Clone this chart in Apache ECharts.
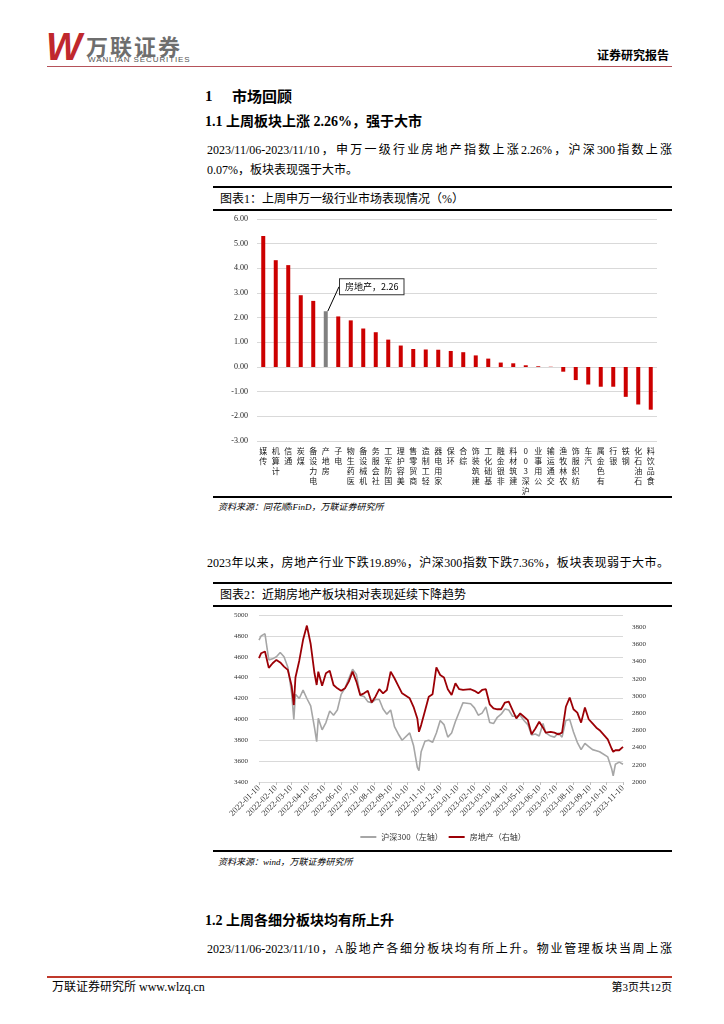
<!DOCTYPE html>
<html><head><meta charset="utf-8">
<script src="https://cdn.jsdelivr.net/npm/echarts@6/dist/echarts.min.js"></script>
<style>
html,body{margin:0;padding:0;background:#fff;}
body{width:724px;height:1024px;position:relative;overflow:hidden;font-family:"Liberation Serif","Noto Sans CJK SC",serif;color:#000;}
.t{position:absolute;white-space:nowrap;}
.rule{position:absolute;background:#000;}
.just{text-align:justify;text-align-last:justify;}
.h1{font-weight:bold;font-size:15px;line-height:16px;}
.h2{font-weight:bold;font-size:14px;line-height:16px;}
.p{font-size:12px;line-height:14px;font-family:"Liberation Serif","Noto Sans CJK SC",serif;}
.cap{font-size:12px;line-height:14px;}
.src{font-size:9px;line-height:10px;font-style:italic;}
</style></head><body>

<!-- header -->
<div class="t" style="left:46px;top:27px;font:italic bold 38px/40px 'Liberation Sans',sans-serif;color:#c0282d;letter-spacing:-6px;">W</div>
<div class="t" style="left:86px;top:33px;font:bold 22px/24px 'Noto Sans CJK SC',sans-serif;color:#6e6e6e;letter-spacing:2px;">万联证券</div>
<div class="t" style="left:88px;top:56px;font:8px/8px 'Liberation Sans',sans-serif;color:#555;letter-spacing:0.9px;">WANLIAN SECURITIES</div>
<div class="t" style="left:597px;top:48px;font:bold 12px/14px 'Noto Sans CJK SC',sans-serif;">证券研究报告</div>
<div class="rule" style="left:47px;top:66px;width:625px;height:1px;background:#b5525a;"></div>

<div class="t h1" style="left:205px;top:88px;">1</div>
<div class="t h1" style="left:232px;top:88px;font-family:'Noto Sans CJK SC',sans-serif;">市场回顾</div>
<div class="t h2" style="left:205px;top:114px;">1.1&nbsp;上周板块上涨 2.26%，强于大市</div>
<div class="t p just" style="left:207px;top:143px;width:465px;">2023/11/06-2023/11/10，申万一级行业房地产指数上涨2.26%，沪深300指数上涨</div>
<div class="t p" style="left:207px;top:163px;">0.07%，板块表现强于大市。</div>

<div class="rule" style="left:213px;top:186px;width:459px;height:2px;"></div>
<div class="t cap" style="left:220px;top:192px;">图表1：上周申万一级行业市场表现情况（%）</div>
<div class="rule" style="left:213px;top:209px;width:459px;height:2px;"></div>
<div id="c1" style="position:absolute;left:213px;top:212px;width:460px;height:284px;"></div>
<div class="rule" style="left:213px;top:496px;width:459px;height:2px;"></div>
<div class="t src" style="left:218px;top:502px;">资料来源：同花顺iFinD，万联证券研究所</div>

<div class="t p just" style="left:207px;top:556px;width:462px;">2023年以来，房地产行业下跌19.89%，沪深300指数下跌7.36%，板块表现弱于大市。</div>

<div class="rule" style="left:213px;top:582px;width:459px;height:2px;"></div>
<div class="t cap" style="left:220px;top:588px;">图表2：近期房地产板块相对表现延续下降趋势</div>
<div class="rule" style="left:213px;top:605px;width:459px;height:2px;"></div>
<div id="c2" style="position:absolute;left:213px;top:607px;width:460px;height:243px;"></div>
<div class="rule" style="left:213px;top:850px;width:459px;height:2px;"></div>
<div class="t src" style="left:218px;top:857px;">资料来源：wind，万联证券研究所</div>

<div class="t h2" style="left:205px;top:913px;">1.2&nbsp;上周各细分板块均有所上升</div>
<div class="t p just" style="left:207px;top:942px;width:465px;">2023/11/06-2023/11/10，A股地产各细分板块均有所上升。物业管理板块当周上涨</div>

<div class="rule" style="left:47px;top:976px;width:625px;height:2px;background:#c0392b;"></div>
<div class="t" style="left:52px;top:980px;font-size:12px;line-height:14px;">万联证券研究所 www.wlzq.cn</div>
<div class="t" style="right:52px;top:981px;font-size:11px;line-height:13px;">第3页共12页</div>

<script>
// ---------- Chart 1 data ----------
const industries = ['传媒','计算机','通信','煤炭','电力设备','房地产','电子','医药生物','机械设备','社会服务','国防军工','美容护理','商贸零售','轻工制造','家用电器','环保','综合','建筑装饰','基础化工','非银金融','建筑材料','沪深300','公用事业','交通运输','农林牧渔','纺织服饰','汽车','有色金属','银行','钢铁','石油石化','食品饮料'];
const weeklyChange = [5.31,4.33,4.13,2.91,2.68,2.26,2.05,1.89,1.56,1.41,1.11,0.87,0.73,0.71,0.70,0.65,0.60,0.47,0.34,0.18,0.15,0.07,0.03,0.01,-0.19,-0.53,-0.71,-0.80,-0.80,-1.21,-1.52,-1.73];
const highlightName = '房地产';

// ---------- Chart 2 data ----------
const dates = ['2022-01-10','2022-01-14','2022-01-21','2022-01-28','2022-02-04','2022-02-11','2022-02-18','2022-02-25','2022-03-04','2022-03-11','2022-03-15','2022-03-18','2022-03-25','2022-04-01','2022-04-08','2022-04-15','2022-04-22','2022-04-26','2022-04-29','2022-05-06','2022-05-13','2022-05-20','2022-05-27','2022-06-03','2022-06-10','2022-06-17','2022-06-24','2022-07-01','2022-07-08','2022-07-15','2022-07-22','2022-07-29','2022-08-05','2022-08-12','2022-08-19','2022-08-26','2022-09-02','2022-09-09','2022-09-16','2022-09-23','2022-09-30','2022-10-14','2022-10-21','2022-10-28','2022-10-31','2022-11-04','2022-11-11','2022-11-18','2022-11-25','2022-12-02','2022-12-09','2022-12-16','2022-12-23','2022-12-30','2023-01-06','2023-01-13','2023-01-20','2023-02-03','2023-02-10','2023-02-17','2023-02-24','2023-03-03','2023-03-10','2023-03-17','2023-03-24','2023-03-31','2023-04-07','2023-04-14','2023-04-21','2023-04-28','2023-05-05','2023-05-12','2023-05-19','2023-05-26','2023-06-02','2023-06-09','2023-06-16','2023-06-21','2023-06-30','2023-07-07','2023-07-14','2023-07-21','2023-07-28','2023-08-04','2023-08-11','2023-08-18','2023-08-25','2023-09-01','2023-09-08','2023-09-15','2023-09-22','2023-09-28','2023-10-13','2023-10-20','2023-10-23','2023-10-27','2023-11-03','2023-11-10'];
const hs300 = [4760,4800,4820,4570,4580,4600,4640,4600,4500,4250,4000,4240,4200,4280,4200,4130,3920,3786,4010,3900,3970,4080,4040,4090,4240,4300,4390,4480,4430,4230,4220,4170,4160,4190,4190,4100,4050,4090,3930,3860,3800,3870,3750,3540,3508,3690,3790,3800,3780,3870,3990,3950,3830,3870,3980,4070,4160,4150,4110,4040,4060,4120,3970,3960,4020,4050,4100,4090,4030,4030,4040,3990,3950,3850,3860,3840,3960,3870,3840,3830,3870,3830,3990,4000,3880,3780,3710,3770,3740,3710,3700,3690,3640,3530,3460,3570,3590,3570];
const realEstate = [3438,3496,3516,3326,3380,3418,3389,3341,3302,3117,2894,3214,3409,3652,3817,3603,3263,3127,3282,3117,3263,3292,3127,3088,3059,3088,3166,3282,3166,3010,3030,3059,2923,2991,3078,3030,3069,3282,3205,3117,3030,2972,2874,2738,2583,2661,2826,2991,3020,3331,3243,3214,3078,3010,3146,3078,3069,3078,3059,3030,3069,3078,2903,2855,2845,2845,2923,2933,2836,2738,2797,2758,2719,2554,2622,2700,2631,2573,2583,2573,2554,2573,2874,2981,2845,2806,2690,2865,2729,2680,2631,2602,2495,2389,2350,2369,2369,2408];
const tickDates = ['2022-01-10','2022-02-10','2022-03-10','2022-04-10','2022-05-10','2022-06-10','2022-07-10','2022-08-10','2022-09-10','2022-10-10','2022-11-10','2022-12-10','2023-01-10','2023-02-10','2023-03-10','2023-04-10','2023-05-10','2023-06-10','2023-07-10','2023-08-10','2023-09-10','2023-10-10','2023-11-10'];
const seriesNames = ['沪深300（左轴）','房地产（右轴）'];

// ---------- helpers ----------
const toTs = s => { const [y,m,d] = s.split('-').map(Number); return new Date(y, m-1, d).getTime(); };
const pad = n => (n < 10 ? '0' : '') + n;
const fmtDate = v => { const d = new Date(v); return d.getFullYear() + '-' + pad(d.getMonth()+1) + '-' + pad(d.getDate()); };

// ---------- Chart 1 ----------
const c1 = echarts.init(document.getElementById('c1'));
c1.setOption({
  animation: false,
  grid: {left: 44, right: 16, top: 7, bottom: 55},
  xAxis: {
    type: 'category', data: industries,
    axisLine: {show: false, onZero: false}, axisTick: {show: false},
    axisLabel: {interval: 0, fontSize: 8, lineHeight: 10, color: '#222', margin: 5, verticalAlign: 'top',
      fontFamily: 'Noto Sans CJK SC',
      formatter: v => Array.from(v).reverse().join('\n')}
  },
  yAxis: {
    type: 'value', min: -3, max: 6, interval: 1,
    axisLine: {show: false}, axisTick: {show: false},
    axisLabel: {formatter: v => v.toFixed(2), fontSize: 8, color: '#222', margin: 9, fontFamily: 'Liberation Serif'},
    splitLine: {lineStyle: {color: '#d9d9d9', width: 1}}
  },
  series: [{
    type: 'bar', barWidth: 4,
    itemStyle: {color: '#cc0000'},
    labelLine: {show: true, lineStyle: {color: '#000', width: 1}},
    labelLayout: p => (industries[p.dataIndex] === highlightName ? {dx: 46, dy: -12} : {}),
    data: weeklyChange.map((v, i) => industries[i] === highlightName ? {
      value: v,
      itemStyle: {color: '#808080'},
      label: {show: true, position: 'top', formatter: industries[i] + '，' + v.toFixed(2),
        fontSize: 9, fontFamily: 'Noto Sans CJK SC', color: '#000', backgroundColor: '#fff',
        borderColor: '#333', borderWidth: 1, padding: [3, 5]}
    } : v)
  }]
});

// ---------- Chart 2 ----------
const c2 = echarts.init(document.getElementById('c2'));
const tickTs = tickDates.map(toTs);
c2.setOption({
  animation: false,
  grid: {left: 46, right: 50, top: 8, bottom: 68},
  legend: {
    bottom: 4, left: 'center', icon: 'rect', itemWidth: 16, itemHeight: 2, itemGap: 6,
    textStyle: {fontSize: 8, color: '#333', fontFamily: 'Noto Sans CJK SC'},
    data: seriesNames
  },
  xAxis: {
    type: 'value', min: toTs(tickDates[0]), max: toTs(tickDates[tickDates.length-1]),
    splitLine: {show: false},
    axisLine: {show: true, onZero: false, lineStyle: {color: '#d9d9d9'}},
    axisTick: {show: true, customValues: tickTs, length: 3, lineStyle: {color: '#bfbfbf'}},
    axisLabel: {customValues: tickTs, rotate: 45, fontSize: 8.5, color: '#333', margin: 5,
      fontFamily: 'Liberation Serif', formatter: fmtDate}
  },
  yAxis: [{
    type: 'value', min: 3400, max: 5000, interval: 200, position: 'left',
    axisLine: {show: false}, axisTick: {show: false},
    axisLabel: {fontSize: 7, color: '#333', margin: 11, fontFamily: 'Liberation Serif', formatter: v => String(v)},
    splitLine: {lineStyle: {color: '#d9d9d9'}}
  }, {
    type: 'value', min: 2000, max: 3940, interval: 200, position: 'right',
    axisLine: {show: false}, axisTick: {show: false}, splitLine: {show: false},
    axisLabel: {fontSize: 7, color: '#333', margin: 9, showMaxLabel: false, fontFamily: 'Liberation Serif', formatter: v => String(v)}
  }],
  series: [{
    name: seriesNames[0], type: 'line', yAxisIndex: 0, showSymbol: false,
    lineStyle: {color: '#a6a6a6', width: 1.6}, itemStyle: {color: '#a6a6a6'},
    data: dates.map((d, i) => [toTs(d), hs300[i]])
  }, {
    name: seriesNames[1], type: 'line', yAxisIndex: 1, showSymbol: false,
    lineStyle: {color: '#9c0006', width: 1.8}, itemStyle: {color: '#9c0006'},
    data: dates.map((d, i) => [toTs(d), realEstate[i]])
  }]
});
</script>
</body></html>
